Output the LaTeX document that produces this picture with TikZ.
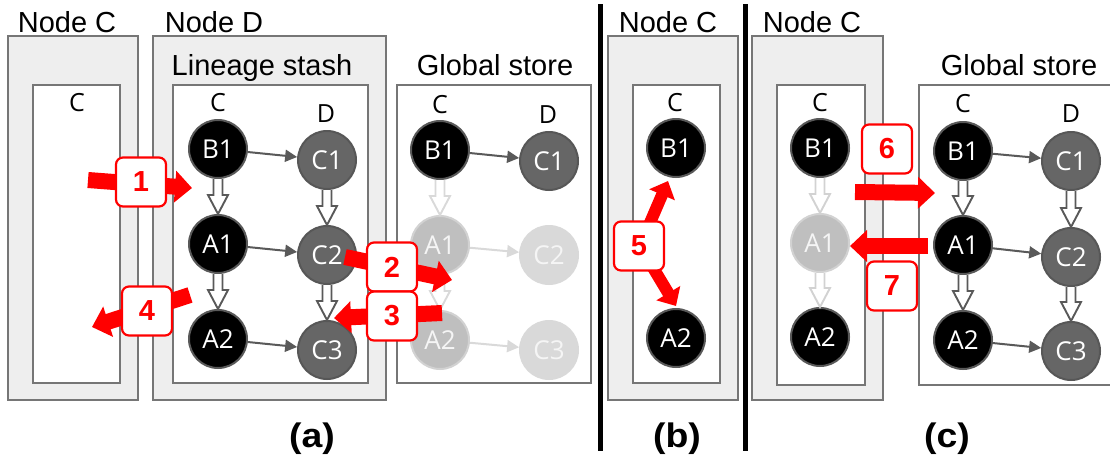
\documentclass[tikz,border=0pt]{standalone}
\usepackage{fontspec}
\setmainfont{Liberation Sans}
\newfontfamily\opensans{Open Sans}
\usetikzlibrary{arrows.meta,calc}

\definecolor{panelfill}{HTML}{EEEEEE}
\definecolor{frame}{HTML}{767676}
\definecolor{edge}{HTML}{595959}
\definecolor{dnode}{HTML}{666666}
\definecolor{fadec}{HTML}{BFBFBF}
\definecolor{fadecb}{HTML}{D2D2D2}
\definecolor{faded}{HTML}{D9D9D9}

% hollow block arrow between two vertically stacked tasks
\newcommand\hollowarrow[3]{%
  \draw[draw=#1, line width=1.9pt, fill=white, line join=miter]
    let \p1=(#2.south), \p2=(#3.north) in
    (\x1-4.5pt,\y1) -- (\x1-4.5pt,\y2+19pt) -- (\x1-10pt,\y2+19pt) -- (\x1,\y2)
    -- (\x1+10pt,\y2+19pt) -- (\x1+4.5pt,\y2+19pt) -- (\x1+4.5pt,\y1);}

\begin{document}
\begin{tikzpicture}[x=1pt,y=-1pt,
  outerbox/.style={draw=frame, fill=panelfill, line width=1.5pt},
  innerbox/.style={draw=frame, fill=white, line width=1.5pt},
  title/.style={anchor=base, inner sep=0, font=\fontsize{29}{29}\selectfont},
  col/.style={inner sep=0, font=\opensans\fontsize{25}{25}\selectfont},
  task/.style={circle, minimum size=58pt, inner sep=0, line width=2pt, text=white,
    font=\opensans\fontsize{26}{26}\selectfont},
  ctask/.style={task, fill=black, draw=edge},
  dtask/.style={task, fill=dnode, draw=dnode!85!black},
  fadectask/.style={task, fill=fadec, draw=fadecb, text=white!96!black},
  fadedtask/.style={task, fill=faded, draw=faded, text=white!96!black},
  dep/.style={draw=edge, line width=2pt, -{Triangle[length=12pt,width=12pt]}},
  fadedep/.style={dep, draw=faded},
  redarrow/.style={draw=red, line width=16pt, -{Triangle[length=17pt,width=31pt]}},
  thinred/.style={draw=red, line width=12pt, -{Triangle[length=15pt,width=27pt]}},
  numbox/.style={draw=red, fill=white, line width=2.2pt, rounded corners=7pt,
    minimum width=50pt, minimum height=49pt, inner sep=0, text=red,
    font=\bfseries\fontsize{29}{29}\selectfont},
  caption/.style={anchor=base, inner sep=0, xscale=1.1, font=\bfseries\fontsize{34}{34}\selectfont},
]
\clip (0,0) rectangle (1110,458);
\fill[white] (0,0) rectangle (1110,458);

% ---------- frames ----------
\draw[outerbox] (8,36) rectangle (138,400);
\draw[innerbox] (33,85) rectangle (120,383);
\draw[outerbox] (153,36) rectangle (386,400);
\draw[innerbox] (173,85) rectangle (368,383);
\draw[innerbox] (397,85) rectangle (591,383);
\draw[outerbox] (608,36) rectangle (738,400);
\draw[innerbox] (633,85) rectangle (720,383);
\draw[outerbox] (752,36) rectangle (883,400);
\draw[innerbox] (777,85) rectangle (865,385);
\draw[innerbox] (919,85) rectangle (1130,385);

% panel separators
\draw[line width=5pt] (600,4) -- (600,451);
\draw[line width=5pt] (745,4) -- (745,451);

% ---------- titles ----------
\node[title] (tNodeCa) at (67,32) {Node C};
\node[title] (tNodeD) at (214,32) {Node D};
\node[title] (tLineage) at (262,75) {Lineage stash};
\node[title] (tGlobalA) at (495,75) {Global store};
\node[title] (tNodeCb) at (668,32) {Node C};
\node[title] (tNodeCc) at (812,32) {Node C};
\node[title] (tGlobalC) at (1019,75) {Global store};

% column headers
\node[col] (hCa) at (77,103) {C};
\node[col] (hLsC) at (218,103) {C};
\node[col] (hLsD) at (326,114) {D};
\node[col] (hGaC) at (440,105) {C};
\node[col] (hGaD) at (548,115) {D};
\node[col] (hCb) at (675,103) {C};
\node[col] (hCc) at (820,103) {C};
\node[col] (hGcC) at (963,104) {C};
\node[col] (hGcD) at (1071,114) {D};

% ---------- (a) lineage stash ----------
\node[ctask] (lsB1) at (218,149) {B1};
\node[dtask] (lsC1) at (327,160) {C1};
\node[ctask] (lsA1) at (218,244) {A1};
\node[dtask] (lsC2) at (327,255) {C2};
\node[ctask] (lsA2) at (218,339) {A2};
\node[dtask] (lsC3) at (327,350) {C3};
\draw[dep] (lsB1) -- (lsC1);
\draw[dep] (lsA1) -- (lsC2);
\draw[dep] (lsA2) -- (lsC3);
\hollowarrow{edge}{lsB1}{lsA1}
\hollowarrow{edge}{lsA1}{lsA2}
\hollowarrow{edge}{lsC1}{lsC2}
\hollowarrow{edge}{lsC2}{lsC3}

% ---------- (a) global store ----------
\node[ctask] (gaB1) at (440,150) {B1};
\node[dtask] (gaC1) at (549,161) {C1};
\node[fadectask] (gaA1) at (440,245) {A1};
\node[fadedtask] (gaC2) at (549,255) {C2};
\node[fadectask] (gaA2) at (440,340) {A2};
\node[fadedtask] (gaC3) at (549,350) {C3};
\draw[dep] (gaB1) -- (gaC1);
\draw[fadedep] (gaA1) -- (gaC2);
\draw[fadedep] (gaA2) -- (gaC3);
\hollowarrow{faded}{gaB1}{gaA1}
\hollowarrow{faded}{gaA1}{gaA2}

% ---------- (b) node C ----------
\node[ctask] (bB1) at (676,148) {B1};
\node[ctask] (bA2) at (676,338) {A2};

% ---------- (c) node C ----------
\node[ctask] (cB1) at (820,148) {B1};
\node[fadectask] (cA1) at (820,243) {A1};
\node[ctask] (cA2) at (820,337) {A2};
\hollowarrow{fadecb}{cB1}{cA1}
\hollowarrow{fadecb}{cA1}{cA2}

% ---------- (c) global store ----------
\node[ctask] (gcB1) at (963,151) {B1};
\node[dtask] (gcC1) at (1071,161) {C1};
\node[ctask] (gcA1) at (963,245) {A1};
\node[dtask] (gcC2) at (1071,257) {C2};
\node[ctask] (gcA2) at (963,340) {A2};
\node[dtask] (gcC3) at (1071,351) {C3};
\draw[dep] (gcB1) -- (gcC1);
\draw[dep] (gcA1) -- (gcC2);
\draw[dep] (gcA2) -- (gcC3);
\hollowarrow{edge}{gcB1}{gcA1}
\hollowarrow{edge}{gcA1}{gcA2}
\hollowarrow{edge}{gcC1}{gcC2}
\hollowarrow{edge}{gcC2}{gcC3}

% ---------- numbered steps ----------
\coordinate (s1from) at (88,180);
\coordinate (s1to) at (192,188);
\coordinate (s2from) at (345,257);
\coordinate (s2to) at (452,280);
\coordinate (s3from) at (442,313);
\coordinate (s3to) at (334,318);
\coordinate (s4from) at (190,295);
\coordinate (s4to) at (92,327);
\coordinate (s5hub) at (640,246);
\coordinate (s5up) at (668,181);
\coordinate (s5down) at (676,306);
\coordinate (s6from) at (855,192);
\coordinate (s6to) at (935,193);
\coordinate (s7from) at (928,246);
\coordinate (s7to) at (850,246);

\draw[redarrow] (s1from) -- (s1to);
\draw[redarrow] (s2from) -- (s2to);
\draw[redarrow] (s3from) -- (s3to);
\draw[redarrow] (s4from) -- (s4to);
\draw[thinred] (s5hub) -- (s5up);
\draw[thinred] (s5hub) -- (s5down);
\draw[redarrow] (s6from) -- (s6to);
\draw[redarrow] (s7from) -- (s7to);

\node[numbox] (n1) at (141,182) {1};
\node[numbox] (n2) at (392,267) {2};
\node[numbox] (n3) at (392,316) {3};
\node[numbox] (n4) at (147,311) {4};
\node[numbox] (n5) at (639,246) {5};
\node[numbox] (n6) at (887,149) {6};
\node[numbox] (n7) at (892,286) {7};

% ---------- captions ----------
\node[caption] (capA) at (312,447) {(a)};
\node[caption] (capB) at (677,447) {(b)};
\node[caption] (capC) at (947,447) {(c)};
\end{tikzpicture}
\end{document}
